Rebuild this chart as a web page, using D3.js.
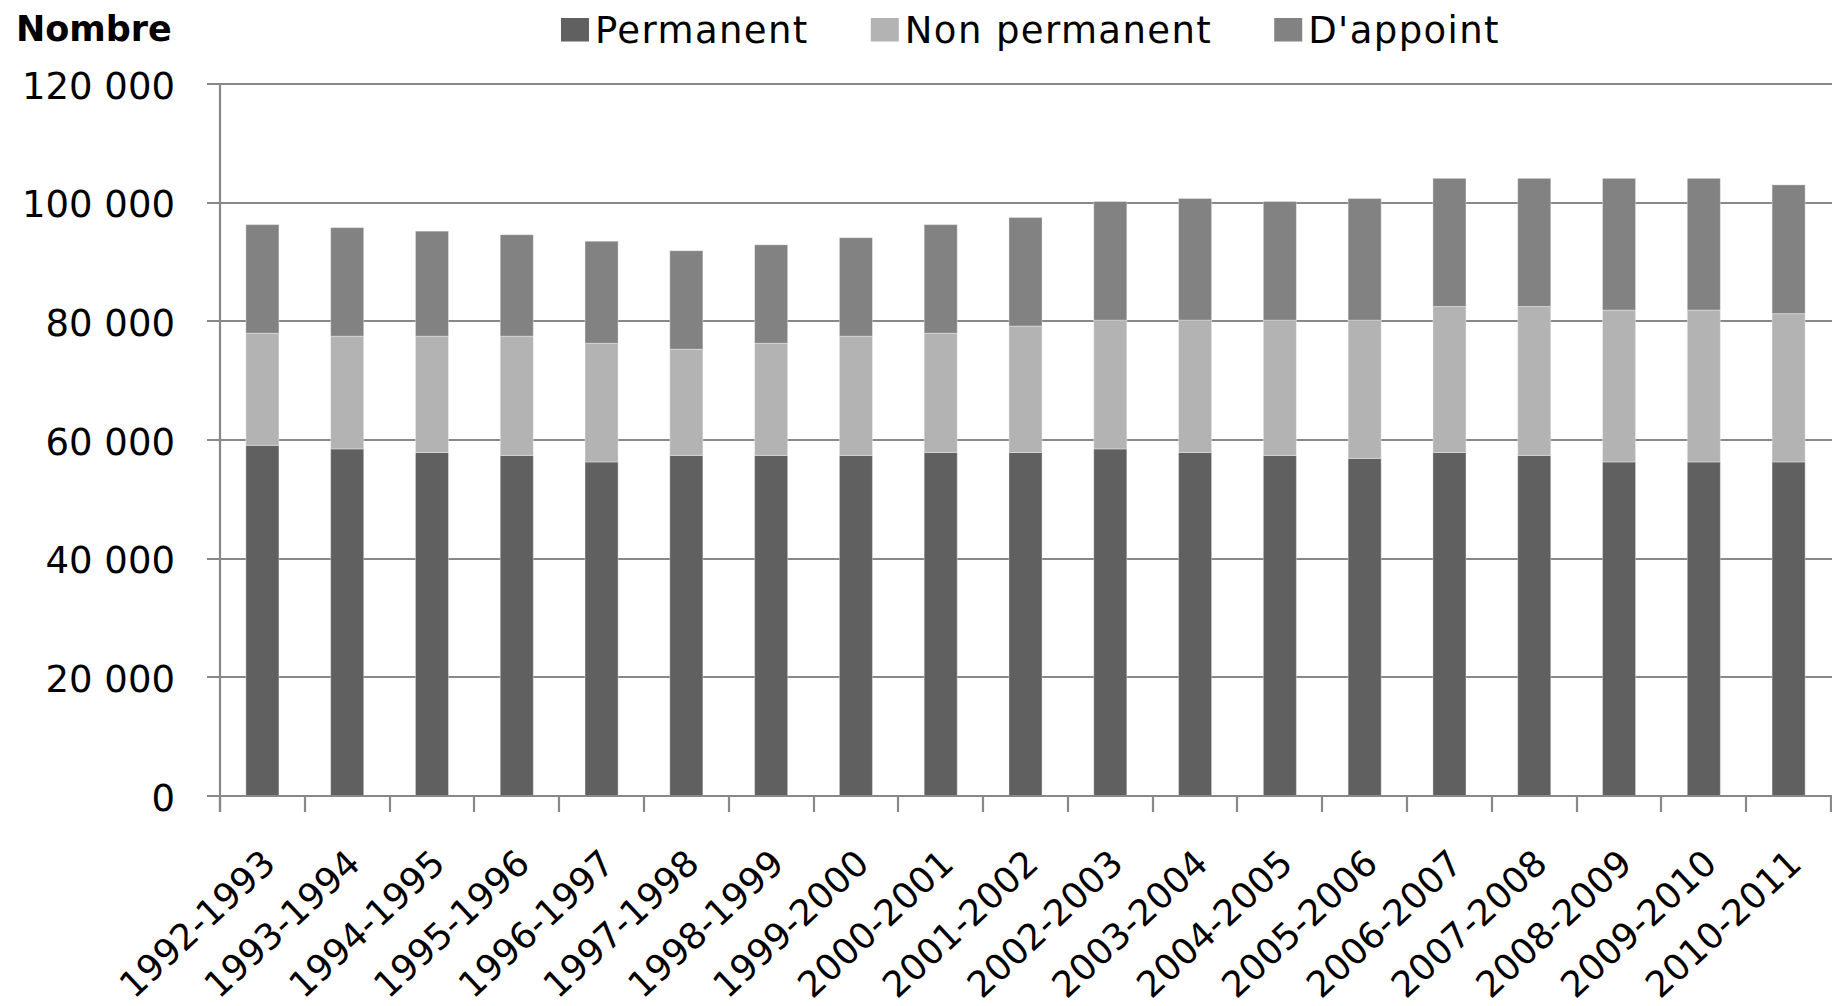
<!DOCTYPE html>
<html>
<head>
<meta charset="utf-8">
<script src="https://cdn.jsdelivr.net/npm/d3@7"></script>
<style>
  html, body { margin: 0; padding: 0; background: #fff; }
  svg { display: block; }
  text { font-family: "DejaVu Sans", Verdana, sans-serif; fill: #000; }
</style>
</head>
<body>
<script>
const categories = ["1992-1993","1993-1994","1994-1995","1995-1996","1996-1997","1997-1998","1998-1999","1999-2000","2000-2001","2001-2002","2002-2003","2003-2004","2004-2005","2005-2006","2006-2007","2007-2008","2008-2009","2009-2010","2010-2011"];
const permanent    = [59100, 58500, 57900, 57400, 56300, 57400, 57400, 57400, 57900, 57900, 58500, 57900, 57400, 56900, 57900, 57400, 56300, 56300, 56300];
const nonPermanent = [18900, 19000, 19600, 20100, 20000, 17900, 18900, 20100, 20100, 21300, 21700, 22300, 22800, 23300, 24600, 25100, 25600, 25600, 25000];
const dAppoint     = [18300, 18300, 17700, 17100, 17200, 16600, 16600, 16600, 18300, 18300, 20000, 20500, 20000, 20500, 21600, 21600, 22200, 22200, 21700];
const seriesNames  = ["Permanent", "Non permanent", "D'appoint"];
const yTicks       = [0, 20000, 40000, 60000, 80000, 100000, 120000];
const yTitle       = "Nombre";

(function () {
const W = 1832, H = 1006;
const colors = ["#606060", "#b3b3b3", "#828282"];
const gridColor = "#888888";

const svg = d3.select("body").append("svg").attr("width", W).attr("height", H);

const mLeft = 220, mRight = 1831, mTop = 84, mBottom = 796;

const x = d3.scaleBand().domain(categories).range([mLeft, mRight]).paddingInner(0.61).paddingOuter(0.305);
const y = d3.scaleLinear().domain([0, 120000]).range([mBottom, mTop]);

const locale = d3.formatLocale({decimal: ",", thousands: "\u2009", grouping: [3], currency: ["", " €"]});
const fmt = v => locale.format(",")(v).replace(/\u2009/g, " ");

// gridlines + y tick marks
svg.append("g").selectAll("line").data(yTicks).join("line")
  .attr("x1", mLeft - 13).attr("x2", W)
  .attr("y1", d => Math.round(y(d))).attr("y2", d => Math.round(y(d)))
  .attr("stroke", gridColor).attr("stroke-width", 2.2);

// y axis line
svg.append("line").attr("x1", mLeft).attr("x2", mLeft).attr("y1", Math.round(y(120000)) - 1).attr("y2", mBottom + 16)
  .attr("stroke", gridColor).attr("stroke-width", 2.2);

// x ticks at category boundaries
const step = x.step();
const xb = d3.range(categories.length + 1).map(i => Math.round(mLeft + i * step));
svg.append("g").selectAll("line").data(xb).join("line")
  .attr("x1", d => d).attr("x2", d => d).attr("y1", mBottom).attr("y2", mBottom + 16)
  .attr("stroke", gridColor).attr("stroke-width", 2.2);

// y tick labels
svg.append("g").selectAll("text").data(yTicks).join("text")
  .attr("x", 175).attr("y", d => y(d)).attr("dy", "0.4em")
  .attr("text-anchor", "end").style("font-size", "37px")
  .text(d => fmt(d));

// stacked bars
const rows = categories.map((c, i) => ({cat: c, p: permanent[i], n: nonPermanent[i], a: dAppoint[i]}));
const stack = d3.stack().keys(["p", "n", "a"])(rows);
svg.append("g").selectAll("g").data(stack).join("g")
  .attr("fill", (d, i) => colors[i])
  .selectAll("rect").data(d => d).join("rect")
  .attr("x", d => x(d.data.cat))
  .attr("width", x.bandwidth())
  .attr("y", d => y(d[1]))
  .attr("height", d => y(d[0]) - y(d[1]))
  .attr("stroke", "rgba(255,255,255,0.35)").attr("stroke-width", 1);

// x axis line on top of bars
svg.append("line").attr("x1", mLeft - 13).attr("x2", W).attr("y1", mBottom).attr("y2", mBottom)
  .attr("stroke", gridColor).attr("stroke-width", 2.2);

// x labels
svg.append("g").selectAll("text").data(categories).join("text")
  .attr("transform", d => `translate(${x(d) + x.bandwidth() / 2 + 15},${mBottom + 70}) rotate(-43)`)
  .attr("text-anchor", "end").style("font-size", "36px")
  .text(d => d);

// y title
svg.append("text").attr("x", 16).attr("y", 41)
  .style("font-size", "35px").style("font-weight", "bold").text(yTitle);

// legend
const lg = svg.append("g");
const items = lg.selectAll("g").data(seriesNames).join("g");
items.append("rect").attr("x", 0).attr("y", 18).attr("width", 28).attr("height", 23.5)
  .attr("fill", (d, i) => colors[i]);
items.append("text").attr("x", 34).attr("y", 43).style("font-size", "37px")
  .style("letter-spacing", "1.4px").text(d => d);
let cx = 0;
const gap = 62;
items.each(function() {
  const g = d3.select(this);
  g.attr("transform", `translate(${cx},0)`);
  cx += 34 + g.select("text").node().getComputedTextLength() + gap;
});
const totalW = cx - gap;
lg.attr("transform", `translate(${(mLeft + mRight) / 2 - totalW / 2 + 5},0)`);
})();
</script>
</body>
</html>
